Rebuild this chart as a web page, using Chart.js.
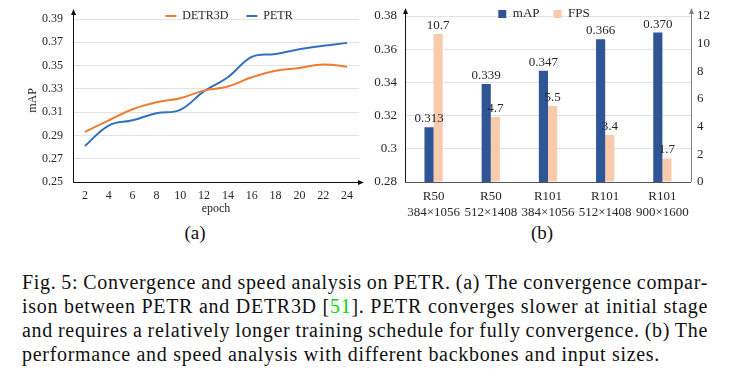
<!DOCTYPE html>
<html><head><meta charset="utf-8">
<script src="https://cdn.jsdelivr.net/npm/chart.js@4.4.1/dist/chart.umd.min.js"></script>
<style>
html,body{margin:0;padding:0;background:#fff;width:730px;height:380px;overflow:hidden;}
#ca{position:absolute;left:0;top:0;}
#cb{position:absolute;left:370px;top:0;}
.sub{position:absolute;font-family:"Liberation Serif",serif;font-size:19px;color:#111;line-height:20px;transform:translate(-50%,-50%);white-space:nowrap;}
.cap{position:absolute;left:22px;font-family:"Liberation Serif",serif;font-size:20px;line-height:24px;color:#111;white-space:nowrap;}
.cite{color:#00d800;}
</style></head><body>
<canvas id="ca" width="370" height="222"></canvas>
<canvas id="cb" width="360" height="222"></canvas>
<div class="sub" style="left:195px;top:233px;">(a)</div>
<div class="sub" style="left:542px;top:233px;">(b)</div>
<div class="cap" data-j="1" style="top:270px;">Fig.&thinsp;5: Convergence and speed analysis on PETR. (a) The convergence compar-</div>
<div class="cap" data-j="1" style="top:294px;">ison between PETR and DETR3D [<span class="cite">51</span>]. PETR converges slower at initial stage</div>
<div class="cap" data-j="1" style="top:318px;">and requires a relatively longer training schedule for fully convergence. (b) The</div>
<div class="cap" id="lastcap" style="top:342px;">performance and speed analysis with different backbones and input sizes.</div>
<script>
// ---- data: chart (a) ----
const epochs = ['2','4','6','8','10','12','14','16','18','20','22','24'];
const detr3d = [0.293,0.303,0.3125,0.3185,0.322,0.3285,0.332,0.340,0.3455,0.348,0.351,0.349];
const petr   = [0.281,0.2985,0.303,0.309,0.312,0.328,0.340,0.3575,0.360,0.364,0.367,0.3695];
const seriesNamesA = ['DETR3D','PETR'];
// ---- data: chart (b) ----
const configs = [['R50','384×1056'],['R50','512×1408'],['R101','384×1056'],['R101','512×1408'],['R101','900×1600']];
const mapVals = [0.313,0.339,0.347,0.366,0.370];
const fpsVals = [10.7,4.7,5.5,3.4,1.7];
const seriesNamesB = ['mAP','FPS'];

const SERIF = '"Liberation Serif", "Times New Roman", serif';
const TXT = '#262626';
const GRID = '#e3e3e3';

// caption: letter-spacing from last line width, then justify the first three lines
(function(){
  const last = document.getElementById('lastcap');
  const w4 = last.getBoundingClientRect().width;
  const ls = (638 - w4) / last.textContent.length;
  document.querySelectorAll('.cap').forEach(el=>{ el.style.letterSpacing = ls + 'px'; });
  document.querySelectorAll('.cap').forEach(el=>{
    if(!el.dataset.j) return;
    const w = el.getBoundingClientRect().width;
    const n = (el.textContent.match(/ /g)||[]).length;
    el.style.wordSpacing = ((686 - w)/n) + 'px';
  });
})();

function arrowHead(ctx, x, y, dir){
  ctx.beginPath();
  if(dir==='up'){ ctx.moveTo(x, y); ctx.lineTo(x-2.5, y+6); ctx.lineTo(x+2.5, y+6); }
  else { ctx.moveTo(x, y); ctx.lineTo(x-6, y-2.5); ctx.lineTo(x-6, y+2.5); }
  ctx.closePath(); ctx.fill();
}

// legend placed over the plot top (takes no layout room)
const legendPlace = {
  id:'legendPlace',
  afterInit(chart){
    const l = chart.legend; if(!l) return;
    const f = l.fit;
    l.fit = function(){ f.call(this); this.height = 0; };
  },
  afterLayout(chart, args, opts){
    const l = chart.legend; if(!l) return;
    const lab = l.options.labels;
    const fs = (lab.font && lab.font.size) || 12;
    const w = l.width;
    l.left = opts.cx - w/2; l.right = l.left + w;
    l.top = opts.cy - lab.padding - fs/2; l.bottom = l.top + lab.padding*2 + fs + 10;
  }
};

const axesA = {
  id:'axesA',
  afterDraw(chart){
    const {ctx, chartArea:a} = chart;
    ctx.save();
    ctx.strokeStyle = '#111'; ctx.fillStyle = '#111'; ctx.lineWidth = 1;
    const x0 = Math.round(a.left)+0.5, yb = Math.round(a.bottom)+0.5;
    ctx.beginPath(); ctx.moveTo(x0, a.bottom); ctx.lineTo(x0, a.top-8); ctx.stroke();
    arrowHead(ctx, x0, a.top-10, 'up');
    ctx.beginPath(); ctx.moveTo(a.left, yb); ctx.lineTo(a.right+2, yb); ctx.stroke();
    arrowHead(ctx, a.right+5, yb, 'right');
    ctx.restore();
  }
};

new Chart(document.getElementById('ca'), {
  type:'line',
  data:{
    labels: epochs,
    datasets:[
      {label:seriesNamesA[0], data:detr3d, borderColor:'#ED7D31', backgroundColor:'#ED7D31', borderWidth:2, pointRadius:0, pointStyle:'line', tension:0.4},
      {label:seriesNamesA[1], data:petr, borderColor:'#3370BD', backgroundColor:'#3370BD', borderWidth:2, pointRadius:0, pointStyle:'line', tension:0.4}
    ]
  },
  options:{
    responsive:false, animation:false, devicePixelRatio:1,
    layout:{padding:{top:19, right:11, bottom:0, left:0}},
    plugins:{
      legend:{position:'top', align:'center',
        labels:{usePointStyle:true, pointStyleWidth:11, padding:18, color:TXT, font:{family:SERIF, size:12}}},
      legendPlace:{cx:229, cy:16},
      tooltip:{enabled:false}
    },
    scales:{
      x:{offset:true, grid:{display:false, drawTicks:false}, border:{display:false},
        ticks:{color:TXT, padding:7, font:{family:SERIF, size:12}, maxRotation:0, autoSkip:false},
        title:{display:true, text:'epoch', color:TXT, font:{family:SERIF, size:12}, padding:{top:0,bottom:6}},
        afterFit(s){ s.height = 40; }},
      y:{min:0.25, max:0.39, grid:{color:GRID, drawTicks:false}, border:{display:false},
        ticks:{stepSize:0.02, color:TXT, padding:10, font:{family:SERIF, size:12}, callback:v=>v.toFixed(2)},
        title:{display:true, text:'mAP', color:TXT, font:{family:SERIF, size:12}, padding:{top:26,bottom:0}},
        afterFit(s){ s.width = 73; }}
    }
  },
  plugins:[legendPlace, axesA]
});

const axesB = {
  id:'axesB',
  afterDraw(chart){
    const {ctx, chartArea:a} = chart;
    ctx.save(); ctx.lineWidth = 1;
    const xl = Math.round(a.left)+0.5, xr = Math.round(a.right)+0.5, yb = Math.round(a.bottom)+0.5;
    ctx.strokeStyle = '#555'; ctx.beginPath(); ctx.moveTo(a.left, yb); ctx.lineTo(a.right, yb); ctx.stroke();
    ctx.strokeStyle = '#111'; ctx.fillStyle = '#111';
    ctx.beginPath(); ctx.moveTo(xl, a.bottom); ctx.lineTo(xl, a.top-6); ctx.stroke();
    arrowHead(ctx, xl, a.top-8, 'up');
    ctx.strokeStyle = '#808080'; ctx.fillStyle = '#808080';
    ctx.beginPath(); ctx.moveTo(xr, a.bottom); ctx.lineTo(xr, a.top-6); ctx.stroke();
    arrowHead(ctx, xr, a.top-8, 'up');
    ctx.restore();
  }
};

const barLabels = {
  id:'barLabels',
  afterDatasetsDraw(chart){
    const ctx = chart.ctx;
    ctx.save();
    ctx.fillStyle = TXT; ctx.font = '13px ' + SERIF; ctx.textAlign = 'center'; ctx.textBaseline = 'bottom';
    chart.data.datasets.forEach((ds, di)=>{
      const meta = chart.getDatasetMeta(di);
      meta.data.forEach((el, i)=>{
        const v = ds.data[i];
        ctx.fillText(di===0 ? v.toFixed(3) : v.toFixed(1), el.x, el.y - 2);
      });
    });
    ctx.restore();
  }
};

new Chart(document.getElementById('cb'), {
  type:'bar',
  data:{
    labels: configs,
    datasets:[
      {label:seriesNamesB[0], data:mapVals, backgroundColor:'#2F5597', yAxisID:'y', categoryPercentage:0.32, barPercentage:1.0},
      {label:seriesNamesB[1], data:fpsVals, backgroundColor:'#F8CBAD', yAxisID:'y1', categoryPercentage:0.32, barPercentage:1.0}
    ]
  },
  options:{
    responsive:false, animation:false, devicePixelRatio:1,
    layout:{padding:{top:16, right:0, bottom:0, left:0}},
    plugins:{
      legend:{position:'top', align:'center',
        labels:{boxWidth:8, boxHeight:8, padding:14, color:TXT, font:{family:SERIF, size:13}}},
      legendPlace:{cx:174, cy:14},
      tooltip:{enabled:false}
    },
    scales:{
      x:{grid:{display:false, drawTicks:false}, border:{display:false},
        ticks:{color:TXT, padding:7, font:{family:SERIF, size:13}, maxRotation:0, autoSkip:false},
        afterFit(s){ s.height = 40; }},
      y:{position:'left', min:0.28, max:0.38, grid:{color:GRID, drawTicks:false}, border:{display:false},
        ticks:{stepSize:0.01, color:TXT, padding:8, font:{family:SERIF, size:13}, callback:v=>String(+v.toFixed(2))},
        afterFit(s){ s.width = 35; }},
      y1:{position:'right', min:0, max:12, grid:{drawOnChartArea:false, drawTicks:false}, border:{display:false},
        ticks:{stepSize:2, color:TXT, padding:6, font:{family:SERIF, size:13}},
        afterFit(s){ s.width = 39; }}
    }
  },
  plugins:[legendPlace, axesB, barLabels]
});
</script>
</body></html>
